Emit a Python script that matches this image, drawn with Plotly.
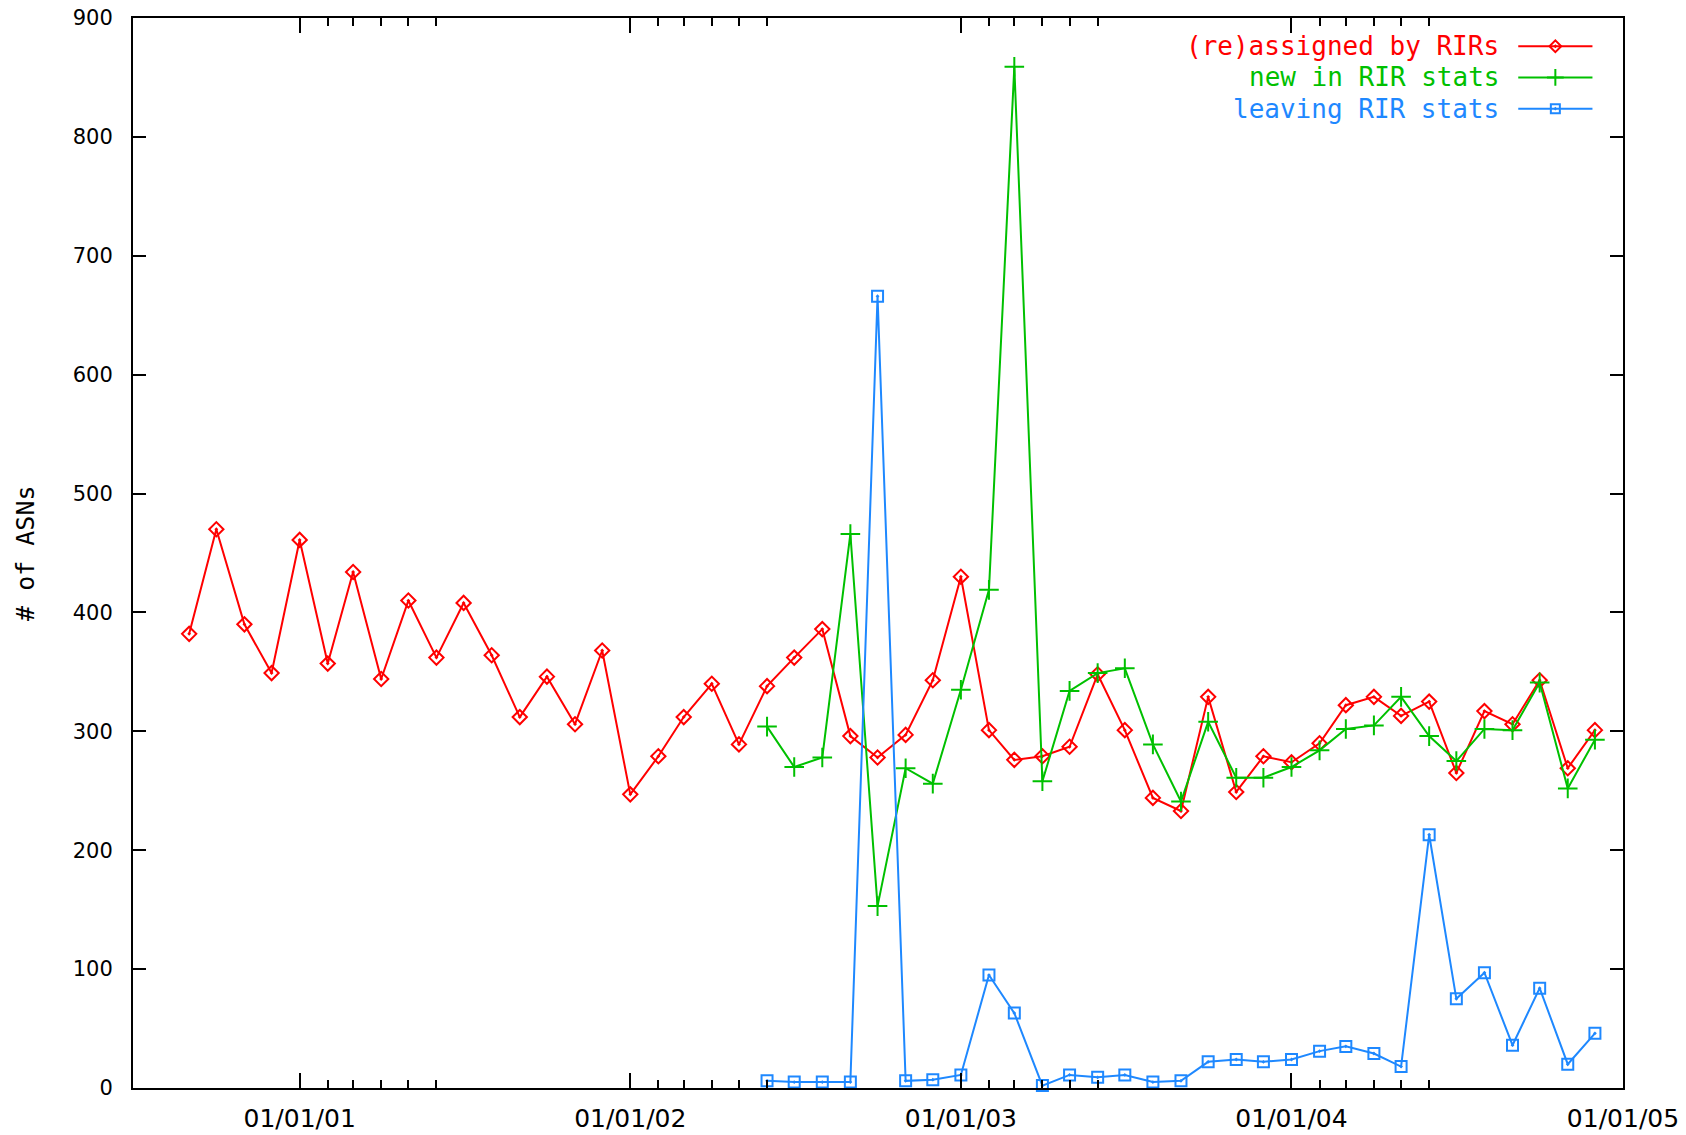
import plotly.graph_objects as go
import pandas as pd

# ---- data (monthly counts) ----
reassigned_start = "2000-09-01"
reassigned = [382, 470, 390, 349, 461, 357, 434, 344, 410, 362, 408, 364,
              312, 346, 306, 368, 247, 279, 312, 340, 289, 338, 362, 386,
              296, 278, 297, 343, 430, 301, 276, 279, 287, 348, 301, 244,
              233, 329, 249, 279, 274, 290, 322, 329, 313, 325, 265, 317,
              306, 343, 269, 301]

new_start = "2002-06-01"
new_in_stats = [304, 270, 278, 466, 153, 269, 256, 335, 419, 859, 258, 334,
                349, 353, 289, 241, 308, 261, 261, 270, 284, 302, 305, 329,
                296, 275, 302, 301, 341, 252, 293]

leaving_start = "2002-06-01"
leaving = [6, 5, 5, 5, 666, 6, 7, 11, 95, 63, 2, 11, 9, 11, 5, 6, 22, 24,
           22, 24, 31, 35, 29, 18, 213, 75, 97, 36, 84, 20, 46]

series_names = ["(re)assigned by RIRs", "new in RIR stats", "leaving RIR stats"]
series_colors = ["#ff0000", "#00c000", "#1e88ff"]
series_symbols = ["diamond-open-dot", "cross-thin-open", "square-open-dot"]

x_range = ["2000-07-01", "2005-01-01"]
major_ticks = ["2001-01-01", "2002-01-01", "2003-01-01", "2004-01-01", "2005-01-01"]
minor_ticks = [f"{y}-{m:02d}-01" for y in (2001, 2002, 2003, 2004) for m in (2, 3, 4, 5, 6)]
y_ticks = [0, 100, 200, 300, 400, 500, 600, 700, 800, 900]

x_red = pd.date_range(reassigned_start, periods=len(reassigned), freq="MS")
x_green = pd.date_range(new_start, periods=len(new_in_stats), freq="MS")
x_blue = pd.date_range(leaving_start, periods=len(leaving), freq="MS")

fig = go.Figure()

marker_sizes = [11, 14, 11]
xs = [x_red, x_green, x_blue]
ys = [reassigned, new_in_stats, leaving]
for i in range(3):
    fig.add_trace(go.Scatter(
        x=xs[i], y=ys[i], mode="lines+markers", name=series_names[i],
        line=dict(color=series_colors[i], width=2),
        marker=dict(symbol=series_symbols[i], size=marker_sizes[i],
                    color=series_colors[i],
                    line=dict(color=series_colors[i], width=2)),
        showlegend=False, cliponaxis=False))

# ---- custom gnuplot-style key (text left of sample) ----
key_y = [0.9736, 0.9445, 0.9153]
key_x0, key_x1, key_xm, key_text_x = 0.9297, 0.9795, 0.9546, 0.918
for i in range(3):
    fig.add_shape(type="line", xref="paper", yref="paper",
                  x0=key_x0, x1=key_x1, y0=key_y[i], y1=key_y[i],
                  line=dict(color=series_colors[i], width=2))
    fig.add_trace(go.Scatter(
        x=[key_xm], y=[key_y[i]], xaxis="x2", yaxis="y2", mode="markers",
        marker=dict(symbol=series_symbols[i], size=marker_sizes[i] - 2,
                    color=series_colors[i],
                    line=dict(color=series_colors[i], width=2)),
        showlegend=False, hoverinfo="skip"))
    fig.add_annotation(x=key_text_x, y=key_y[i], xref="paper", yref="paper",
                       text=series_names[i], showarrow=False,
                       xanchor="right", yanchor="middle",
                       font=dict(family="DejaVu Sans Mono", size=26,
                                 color=series_colors[i]))

fig.add_annotation(x=-0.0725, y=0.5, xref="paper", yref="paper",
                   text="# of ASNs", textangle=-90, showarrow=False,
                   xanchor="center", yanchor="middle",
                   font=dict(family="DejaVu Sans Mono", size=25, color="black"))

fig.update_layout(
    width=1686, height=1135,
    margin=dict(l=133, r=63, t=18, b=47, autoexpand=False),
    paper_bgcolor="white", plot_bgcolor="white",
    showlegend=False,
    xaxis=dict(
        type="date", range=x_range, automargin=False,
        tickmode="array", tickvals=major_ticks, tickformat="%m/%d/%y",
        ticks="inside", ticklen=15, tickwidth=2, tickcolor="black",
        showline=True, linecolor="black", linewidth=2, mirror="ticks",
        showgrid=False, zeroline=False,
        tickfont=dict(family="DejaVu Sans", size=25, color="black"),
        ticklabelstandoff=7,
        minor=dict(tickmode="array", tickvals=minor_ticks, ticks="inside",
                   ticklen=8, tickwidth=2, tickcolor="black", showgrid=False),
    ),
    yaxis=dict(
        range=[0, 900], tickmode="array", tickvals=y_ticks, automargin=False,
        ticks="inside", ticklen=13, tickwidth=2, tickcolor="black",
        showline=True, linecolor="black", linewidth=2, mirror="ticks",
        showgrid=False, zeroline=False,
        tickfont=dict(family="DejaVu Sans", size=21, color="black"),
        ticklabelstandoff=14,
    ),
    xaxis2=dict(overlaying="x", range=[0, 1], visible=False, fixedrange=True),
    yaxis2=dict(overlaying="y", range=[0, 1], visible=False, fixedrange=True),
)

fig.write_html("out.html")
